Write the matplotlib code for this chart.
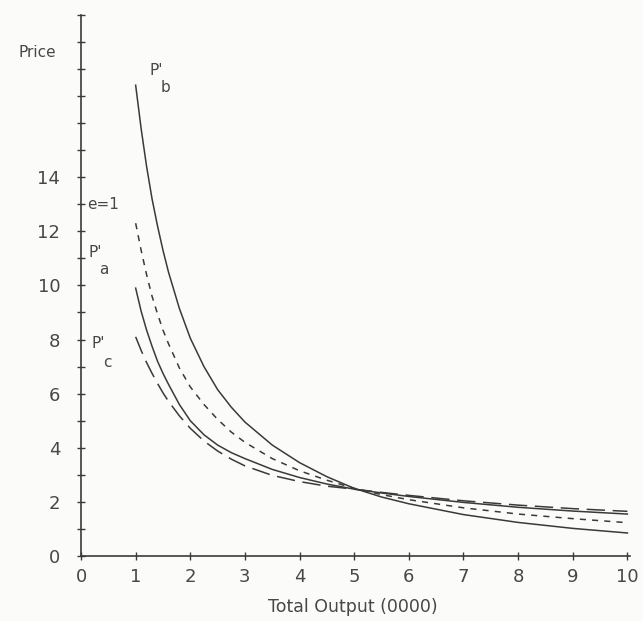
import matplotlib
matplotlib.use("Agg")
import matplotlib.pyplot as plt

# Output quantity (0000 units) at which each demand curve is tabulated
output = [1, 1.1, 1.2, 1.3, 1.4, 1.5, 1.6, 1.8, 2, 2.25, 2.5, 2.75, 3, 3.5, 4, 4.5,
          5, 5.5, 6, 7, 8, 9, 10]

# Price along each demand curve
price_b = [17.4, 15.8, 14.4, 13.2, 12.2, 11.3, 10.5, 9.15, 8.05, 7.0, 6.15, 5.5, 4.95,
           4.1, 3.45, 2.93, 2.5, 2.18, 1.93, 1.53, 1.24, 1.02, 0.85]
price_unit = [12.3, 11.3, 10.4, 9.6, 8.95, 8.35, 7.85, 6.95, 6.25, 5.6, 5.05, 4.58, 4.2,
              3.6, 3.15, 2.8, 2.5, 2.27, 2.08, 1.78, 1.55, 1.38, 1.23]
price_a = [9.9, 9.05, 8.35, 7.75, 7.2, 6.75, 6.35, 5.6, 5.0, 4.48, 4.1, 3.82, 3.6,
           3.2, 2.9, 2.66, 2.47, 2.33, 2.2, 1.98, 1.8, 1.66, 1.55]
price_c = [8.1, 7.6, 7.15, 6.75, 6.38, 6.03, 5.72, 5.18, 4.72, 4.25, 3.88, 3.58, 3.33,
           2.98, 2.75, 2.58, 2.47, 2.35, 2.24, 2.04, 1.88, 1.75, 1.65]

x_ticks = list(range(0, 11))
y_ticks = list(range(0, 21))
y_tick_labels = [str(v) if (v % 2 == 0 and v <= 14) else "" for v in y_ticks]

ink = "#3a3a3a"
label_ink = "#474747"
bg = "#fbfbf9"
plt.rcParams["font.family"] = ["DejaVu Sans"]

fig = plt.figure(figsize=(6.43, 6.21), dpi=100, facecolor=bg)
ax = fig.add_axes([0.126, 0.1047, 0.854, 0.8713], facecolor=bg)

ax.plot(output, price_b, color=ink, lw=1.1)
ax.plot(output, price_unit, color=ink, lw=1.1, dashes=(4, 4))
ax.plot(output, price_a, color=ink, lw=1.1)
ax.plot(output, price_c, color=ink, lw=1.1, dashes=(12, 5))

ax.set_xlim(0, 10.05)
ax.set_ylim(0, 20)
for side in ("top", "right"):
    ax.spines[side].set_visible(False)
for side in ("left", "bottom"):
    ax.spines[side].set_color(ink)
    ax.spines[side].set_linewidth(1.2)

ax.set_xticks(x_ticks)
ax.set_xticklabels([str(v) for v in x_ticks])
ax.set_yticks(y_ticks)
ax.set_yticklabels(y_tick_labels)
ax.tick_params(axis="both", colors=ink, labelcolor=label_ink, labelsize=13,
               direction="inout", length=6, width=1)
ax.tick_params(axis="y", pad=12)
ax.tick_params(axis="x", pad=6)

txt = dict(color=label_ink, fontsize=11)
ax.text(-0.8, 18.6, "Price", ha="center", va="center", **txt)
ax.text(1.25, 17.95, "P'", ha="left", va="center", **txt)
ax.text(1.45, 17.3, "b", ha="left", va="center", **txt)
ax.text(0.12, 13.0, "e=1", ha="left", va="center", **txt)
ax.text(0.13, 11.2, "P'", ha="left", va="center", **txt)
ax.text(0.33, 10.6, "a", ha="left", va="center", **txt)
ax.text(0.2, 7.85, "P'", ha="left", va="center", **txt)
ax.text(0.4, 7.15, "c", ha="left", va="center", **txt)

fig.text(353 / 643, 1 - 607 / 621, "Total Output (0000)", ha="center", va="center",
         color=label_ink, fontsize=12.5)

fig.savefig("out.png", dpi=100, facecolor=bg)
